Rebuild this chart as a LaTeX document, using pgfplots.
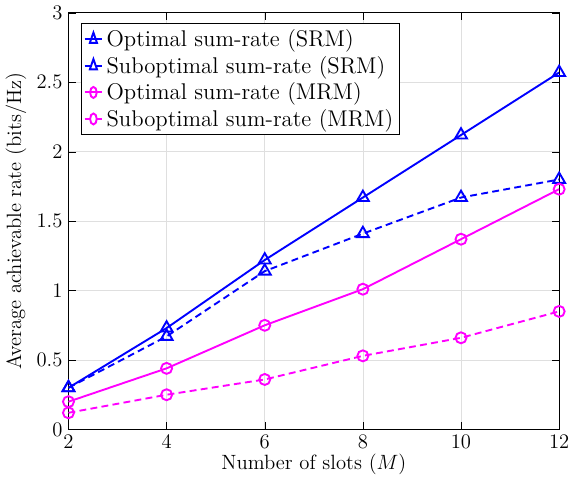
\documentclass[border=0pt]{standalone}
\usepackage{pgfplots}
\pgfplotsset{compat=1.18}
\definecolor{myblue}{rgb}{0,0,1}
\definecolor{mymag}{rgb}{1,0,1}
\begin{document}
\begin{tikzpicture}
\begin{axis}[
  scale only axis,
  width=285pt, height=242pt,
  xmin=2, xmax=12, ymin=0, ymax=3,
  xtick={2,4,6,8,10,12},
  ytick={0,0.5,1,1.5,2,2.5,3},
  yticklabels={0,0.5,1,1.5,2,2.5,3},
  grid=major,
  grid style={gray!25, line width=0.4pt},
  tick align=inside,
  tick style={black},
  axis line style={black, line width=0.5pt},
  tick label style={font=\large},
  label style={font=\large},
  xlabel={Number of slots ($M$)},
  ylabel={Average achievable rate (bits/Hz)},
  xlabel style={yshift=4pt},
  ylabel style={yshift=-1pt},
  legend style={at={(0.025,0.975)}, anchor=north west, draw=black, fill=white, font=\fontsize{13.2}{15}\selectfont, inner sep=1.5pt, row sep=0pt},
  legend cell align=left,
  legend image post style={xscale=0.6},
]
\addplot[color=myblue, line width=1.1pt, mark=triangle, mark size=4pt, mark options={solid, line width=1.1pt}] coordinates {
(2,0.30) (4,0.73) (6,1.22) (8,1.67) (10,2.12) (12,2.57)};
\addlegendentry{Optimal sum-rate (SRM)}
\addplot[color=myblue, line width=1.1pt, dash pattern=on 4pt off 2.5pt, mark=triangle, mark size=4pt, mark options={solid, line width=1.1pt}] coordinates {
(2,0.30) (4,0.67) (6,1.14) (8,1.41) (10,1.67) (12,1.80)};
\addlegendentry{Suboptimal sum-rate (SRM)}
\addplot[color=mymag, line width=1.1pt, mark=o, mark size=3.2pt, mark options={solid, line width=1.1pt}] coordinates {
(2,0.20) (4,0.44) (6,0.75) (8,1.01) (10,1.37) (12,1.73)};
\addlegendentry{Optimal sum-rate (MRM)}
\addplot[color=mymag, line width=1.1pt, dash pattern=on 4pt off 2.5pt, mark=o, mark size=3.2pt, mark options={solid, line width=1.1pt}] coordinates {
(2,0.12) (4,0.25) (6,0.36) (8,0.53) (10,0.66) (12,0.85)};
\addlegendentry{Suboptimal sum-rate (MRM)}
\end{axis}
\end{tikzpicture}
\end{document}
